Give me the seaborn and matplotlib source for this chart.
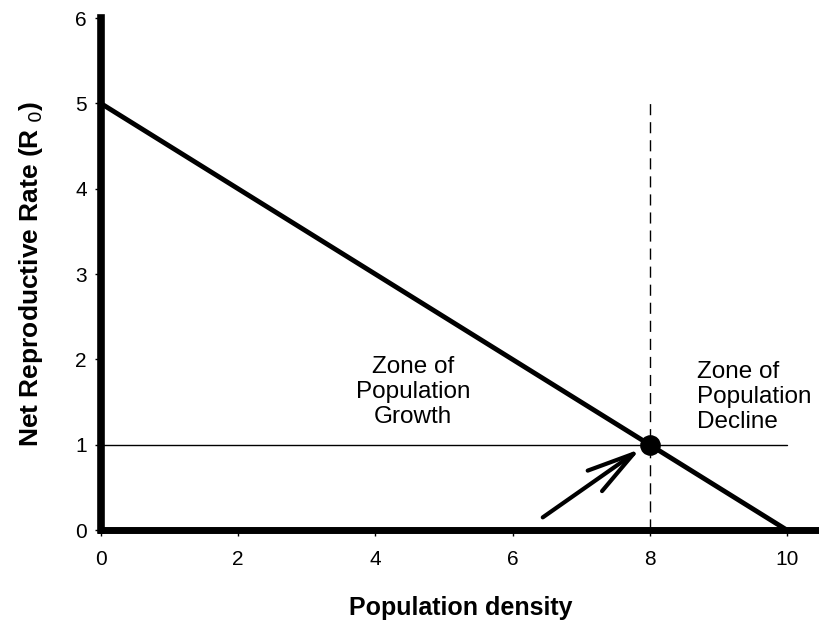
import matplotlib
matplotlib.use('Agg')
import matplotlib.pyplot as plt
import seaborn as sns
import pandas as pd

# data
density = [0, 10]
r0 = [5, 0]
replacement_x = [0, 10]
replacement_y = [1, 1]
equilibrium_x = [8]
equilibrium_y = [1]
carrying_line_x = [8, 8]
carrying_line_y = [0, 5]
arrow_start = (6.44, 0.15)
arrow_end = (7.86, 0.95)
x_ticks = [0, 2, 4, 6, 8, 10]
y_ticks = [0, 1, 2, 3, 4, 5, 6]

sns.set_style('white')
plt.rcParams['font.family'] = ['Liberation Sans', 'DejaVu Sans']
for key in ['text.color', 'axes.labelcolor', 'xtick.color', 'ytick.color']:
    plt.rcParams[key] = 'black'

df = pd.DataFrame({'density': density, 'r0': r0})

fig = plt.figure(figsize=(8.2, 6.23), dpi=100)
ax = fig.add_axes([0.123, 0.149, 0.877, 0.822])

sns.lineplot(data=df, x='density', y='r0', color='black', linewidth=3.5, ax=ax)
ax.plot(replacement_x, replacement_y, color='black', linewidth=1)
ax.plot(carrying_line_x, carrying_line_y, color='black', linewidth=1,
        linestyle=(0, (8, 5)))
sns.scatterplot(x=equilibrium_x, y=equilibrium_y, color='black', s=190, ax=ax,
                zorder=5, edgecolor='black')

ax.annotate('', xy=arrow_end, xytext=arrow_start,
            arrowprops=dict(arrowstyle='->,head_length=3.4,head_width=0.9',
                            color='black', linewidth=3, shrinkA=0, shrinkB=0))

ax.text(4.55, 1.62, 'Zone of\nPopulation\nGrowth', ha='center', va='center',
        fontsize=17.5, linespacing=1.2)
ax.text(8.69, 1.56, 'Zone of\nPopulation\nDecline', ha='left', va='center',
        fontsize=17.5, linespacing=1.2)

ax.set_xlim(0, 10.48)
ax.set_ylim(0, 6)
ax.set_xticks(x_ticks)
ax.set_yticks(y_ticks)
ax.tick_params(axis='both', direction='out', length=4, width=1, labelsize=15,
               bottom=True, left=True)
ax.tick_params(axis='x', pad=10)
ax.tick_params(axis='y', pad=6)

for side in ['top', 'right']:
    ax.spines[side].set_visible(False)
ax.spines['left'].set_linewidth(5.5)
ax.spines['bottom'].set_linewidth(5)
ax.spines['left'].set_color('black')
ax.spines['bottom'].set_color('black')

ax.set_xlabel('Population density', fontsize=18, fontweight='bold', labelpad=20)
ax.set_ylabel('Net Reproductive Rate (R$_{\\ 0}$)', fontsize=19, fontweight='bold',
              labelpad=22)

fig.savefig('out.png', dpi=100)
